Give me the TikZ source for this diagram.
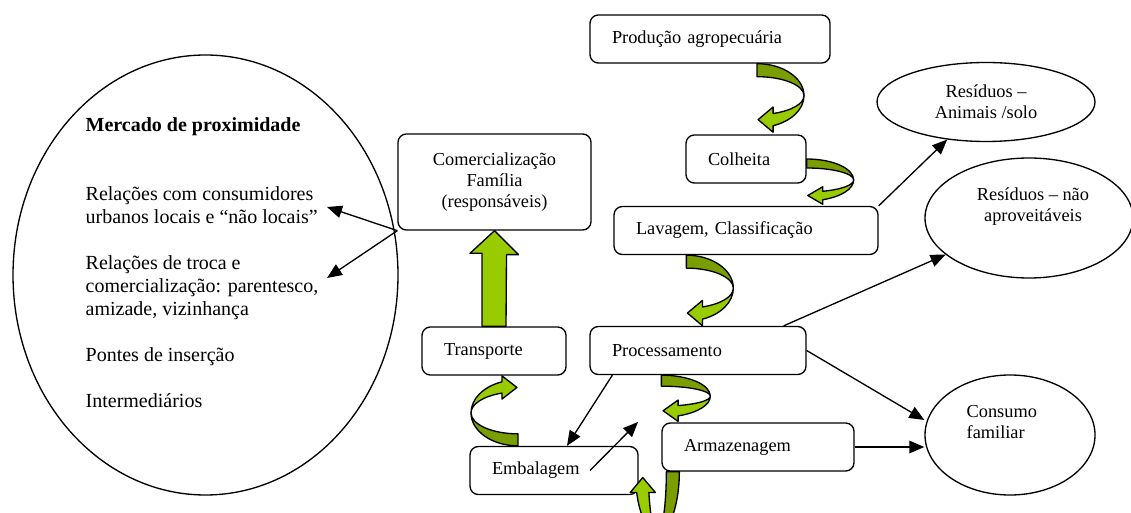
\documentclass[tikz,border=0pt]{standalone}
\usepackage{fontspec}
\setmainfont{Liberation Serif}
\usetikzlibrary{positioning,arrows.meta,calc,shapes.geometric}
\definecolor{leaf}{HTML}{99CC00}
\definecolor{leafdark}{HTML}{7A9E00}

\newcommand{\greenturn}[4][]{%
  \begin{scope}[#1]
    \pgfmathsetmacro\rin{#3-#4}
    \pgfmathsetmacro\xb{#2*cos(70)}
    \pgfmathsetmacro\yo{#3*sin(70)}
    \pgfmathsetmacro\yi{\rin*sin(70)}
    \pgfmathsetmacro\hw{#4/2}
    \filldraw[fill=leafdark,line join=round] (0,-#3) arc[start angle=-90,end angle=0,x radius=#2,y radius=#3]
      arc[start angle=0,end angle=-90,x radius=#2,y radius=\rin] -- cycle;
    \filldraw[fill=leaf,line join=round] (#2,0) arc[start angle=0,end angle=70,x radius=#2,y radius=#3]
      -- (\xb,\yo+\hw) -- (\xb-15,{(\yo+\yi)/2}) -- (\xb,\yi-\hw) -- (\xb,\yi)
      arc[start angle=70,end angle=0,x radius=#2,y radius=\rin] -- cycle;
  \end{scope}}

\begin{document}
\begin{tikzpicture}[x=0.6pt,y=-0.6pt,font=\fontsize{11}{12.6}\selectfont,line width=0.8pt,
  >={Triangle[length=9pt,width=7.5pt]},
  stage/.style={draw,rounded corners=5pt,align=left,inner xsep=13.2pt,inner ysep=0pt,minimum height=28.8pt},
  blob/.style={draw,ellipse,inner sep=0pt,align=center}]
\useasboundingbox (0,0) rectangle (1131,513);
\clip (0,0) rectangle (1131,513);

\node[draw,ellipse,minimum width=231pt,minimum height=264pt] (mercado) at (205.5,275) {};
\node[anchor=north west,align=left,inner sep=0pt,font=\fontsize{12}{13.8}\selectfont] (mercadotxt) at (85,117) {\textbf{Mercado de proximidade}\\[27.6pt]
Relações com consumidores\\
urbanos locais e “não locais”\\[13.8pt]
Relações de troca e\\
comercialização: parentesco,\\
amizade, vizinhança\\[13.8pt]
Pontes de inserção\\[13.8pt]
Intermediários};

\node[stage,text width=117.6pt] (prod) at (710,39) {Produção agropecuária};
\node[stage,text width=45.6pt] (colh) at (746,159) {Colheita};
\node[stage,text width=132pt] (lav) at (746,230.5) {Lavagem, Classificação};
\node[stage,text width=103.2pt] (proc) at (698,350.5) {Processamento};
\node[stage,text width=88.8pt] (arm) at (758,447) {Armazenagem};
\node[stage,text width=60pt] (transp) at (494,351) {Transporte};
\node[stage,text width=74.4pt] (emb) at (554,470.5) {Embalagem};
\node[draw,rounded corners=5pt,align=center,minimum width=115.8pt,minimum height=57.6pt] (comerc) at (494.5,182) {Comercialização\\Família\\(responsáveis)};

\node[blob,minimum width=130.8pt,minimum height=47.4pt] (residanim) at (986,102) {Resíduos –\\Animais /solo};
\node[blob,minimum width=124.8pt,minimum height=72pt] (naoaprov) at (1029,218) {};
\node[align=center,inner sep=0pt] (naoaprovtxt) at (1033,207) {Resíduos – não\\aproveitáveis};
\node[blob,minimum width=102pt,minimum height=72pt] (consumo) at (1010,435) {};
\node[anchor=west,align=left,inner sep=0pt] (consumotxt) at (966,422) {Consumo\\familiar};

\coordinate (rel1) at (327,207);
\coordinate (rel2) at (327,278);
\coordinate (gap) at (638,422);

\draw[->] (comerc.south west) -- (rel1);
\draw[->] (comerc.south west) -- (rel2);
\draw[->] (lav.north east) -- (residanim);
\draw[->] ($(proc.north east)+(-23,0)$) -- (naoaprov);
\draw[->] (proc.east) -- ($(consumo.west)+(0,-15)$);
\draw[->] (arm.east) -- (arm.east -| consumo.west);
\draw[->] ($(proc.south west)+(23,0)$) -- ($(emb.north)+(13,0)$);
\draw[->] ($(emb.center)+(36,0)$) -- (gap);

\filldraw[fill=leaf,line join=round] ($(transp.north)+(-12,0)$) -- ++(0,-73) -- ++(-12,0) -- (comerc.south)
  -- ++(24,24) -- ++(-12,0) -- ($(transp.north)+(12,0)$) -- cycle;

\greenturn[shift={($(prod.south)+(47,32)$)}]{47}{32}{13}
\greenturn[shift={($(colh.east)+(0,21)$)}]{47}{21}{9}
\greenturn[shift={($(lav.south west)+(73,33)$)}]{47}{33}{13}
\greenturn[shift={($(proc.south west)+(72,21)$)}]{49}{21}{11}
\greenturn[shift={($(emb.north)+(-36,-33)$)},rotate=180]{47}{33}{12}
\greenturn[shift={($(arm.south west)+(-4,0)$)},rotate=-90]{61}{22}{13}
\end{tikzpicture}
\end{document}
